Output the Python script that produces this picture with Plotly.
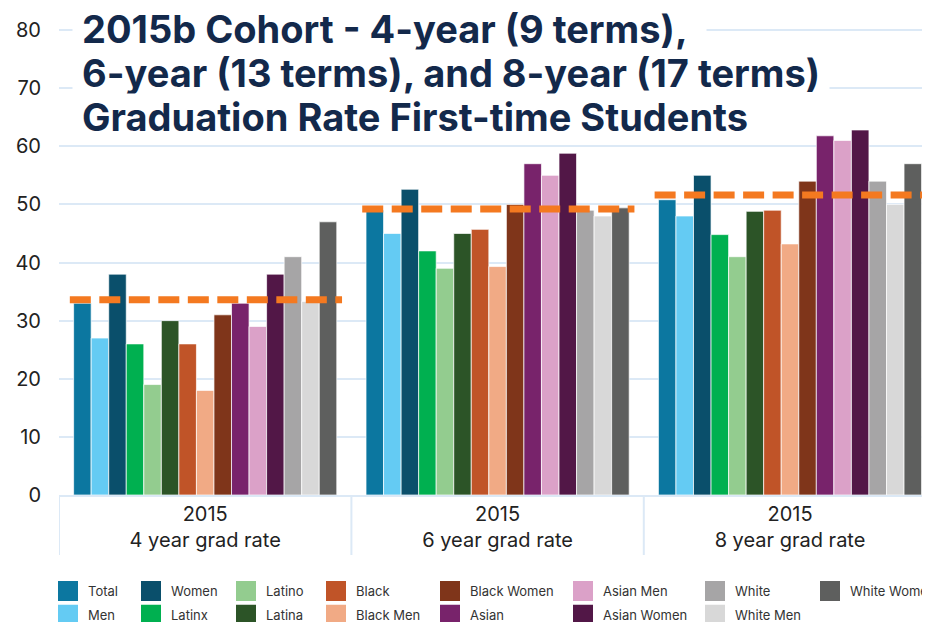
import plotly.graph_objects as go

# ---- data ----
year_label = "2015"
rate_labels = ["4 year grad rate", "6 year grad rate", "8 year grad rate"]
series_names = ["Total", "Men", "Women", "Latinx", "Latino", "Latina", "Black", "Black Men",
                "Black Women", "Asian", "Asian Men", "Asian Women", "White", "White Men", "White Women"]
total = [33, 49, 50.8]
men = [27, 45, 48]
women = [38, 52.6, 55]
latinx = [26, 42, 44.8]
latino = [19, 39, 41]
latina = [30, 45, 48.8]
black = [26, 45.7, 49]
black_men = [18, 39.3, 43.2]
black_women = [31, 50, 54]
asian = [33, 57, 61.8]
asian_men = [29, 55, 61]
asian_women = [38, 58.8, 62.8]
white = [41, 49, 54]
white_men = [33.3, 48, 50]
white_women = [47, 49.4, 57]
avg_rate = [33.6, 49.2, 51.6]
y_ticks = [0, 10, 20, 30, 40, 50, 60, 70, 80]
title_lines = ["2015b Cohort - 4-year (9 terms),",
               "6-year (13 terms), and 8-year (17 terms)",
               "Graduation Rate First-time Students"]

series_values = [total, men, women, latinx, latino, latina, black, black_men, black_women,
                 asian, asian_men, asian_women, white, white_men, white_women]

# ---- styles ----
colors = ["#0c77a0", "#64cbf3", "#0a4f6b", "#00b050", "#93cc8f", "#2c5427", "#c05428", "#f1aa85",
          "#7f351a", "#78236b", "#dba1c8", "#521747", "#a6a5a6", "#d8d8d8", "#5e5f5e"]
grid_col = "#dce9f6"
font_fam = "Inter, Roboto, sans-serif"

# page body has an 8px margin, so figure pixels = reference pixels - 8
OFF = 8
W, H = 930 - OFF, 622 - OFF
ML, MR, MT = 59 - OFF, 0, 28 - OFF
plot_bottom = 495 - OFF
MB = H - plot_bottom
plot_w = W - ML - MR
plot_h = H - MT - MB
group_px = 292.4
x_end = -0.5 + plot_w / group_px
px_per_unit = (495 - 30) / 80.0
y_top = 80 + (30 - 28) / px_per_unit


def py2paper(p_ref):
    return (plot_bottom - (p_ref - OFF)) / plot_h


def px2paper(p_ref):
    return ((p_ref - OFF) - ML) / plot_w


legend_cols_px = [68, 151, 246, 336, 450, 583, 715, 830]

fig = go.Figure()
for i, (name, vals) in enumerate(zip(series_names, series_values)):
    fig.add_trace(go.Bar(
        name=name, x=rate_labels, y=vals,
        marker=dict(color=colors[i], line=dict(color="rgba(255,255,255,0.7)", width=1)),
        legendgroup=name, showlegend=False,
        hovertemplate=name + ": %{y}<extra></extra>",
    ))

# legend entries (column-major, two per column)
for i, name in enumerate(series_names):
    col = i // 2
    legend_id = "legend" if col == 0 else f"legend{col + 1}"
    fig.add_trace(go.Scatter(
        name=name, x=[None], y=[None], mode="markers",
        marker=dict(symbol="square", size=16, color=colors[i], line=dict(color=colors[i], width=4)),
        legend=legend_id, legendgroup=name, showlegend=True, hoverinfo="skip",
    ))

shapes = []
for i, v in enumerate(avg_rate):
    shapes.append(dict(type="line", xref="x", yref="y", x0=i - 0.463, x1=i + 0.468, y0=v, y1=v,
                       line=dict(color="#f47920", width=7, dash="21px,8.5px"), layer="above"))
for b in [-0.5, 0.5, 1.5]:
    shapes.append(dict(type="line", xref="x", yref="paper", x0=b, x1=b, y0=0, y1=-(555 - 495) / plot_h,
                       line=dict(color=grid_col, width=2), layer="below"))

annotations = []
title_centers_px = [29, 73, 117]
title_pad_right = ["\u00a0\u00a0", "\u00a0", "\u00a0"]
for txt, cy, pr in zip(title_lines, title_centers_px, title_pad_right):
    annotations.append(dict(
        text="<b>\u00a0" + txt + pr + "</b>", xref="paper", yref="paper",
        x=px2paper(72), y=py2paper(cy),
        xanchor="left", yanchor="middle", showarrow=False,
        font=dict(family=font_fam, size=38, color="#13294b"),
        bgcolor="white", borderpad=0,
    ))

layout_legends = {}
for col, cx in enumerate(legend_cols_px):
    key = "legend" if col == 0 else f"legend{col + 1}"
    layout_legends[key] = dict(
        x=px2paper(cx - 20), xanchor="left",
        y=py2paper(576), yanchor="top",
        orientation="v", bgcolor="rgba(0,0,0,0)", borderwidth=0,
        font=dict(family=font_fam, size=13, color="#333333"),
        tracegroupgap=4, itemclick=False, itemdoubleclick=False,
    )

fig.update_layout(
    width=W, height=H,
    margin=dict(l=ML, r=MR, t=MT, b=MB, autoexpand=False),
    paper_bgcolor="white", plot_bgcolor="white",
    barmode="group", bargap=0.1, bargroupgap=0,
    showlegend=True,
    shapes=shapes, annotations=annotations,
    xaxis=dict(
        type="category", range=[-0.5, x_end],
        tickvals=rate_labels,
        ticktext=[year_label + "<br>" + r for r in rate_labels],
        tickfont=dict(family=font_fam, size=20, color="#222222"),
        showgrid=False, showline=True, linecolor=grid_col, linewidth=2,
        ticks="", zeroline=False,
    ),
    yaxis=dict(
        range=[0, y_top], tickvals=y_ticks,
        tickfont=dict(family=font_fam, size=20, color="#222222"),
        showgrid=True, gridcolor=grid_col, gridwidth=2,
        zeroline=False, showline=False, ticks="", ticklabelstandoff=17,
    ),
    **layout_legends,
)

fig.write_html("out.html")
